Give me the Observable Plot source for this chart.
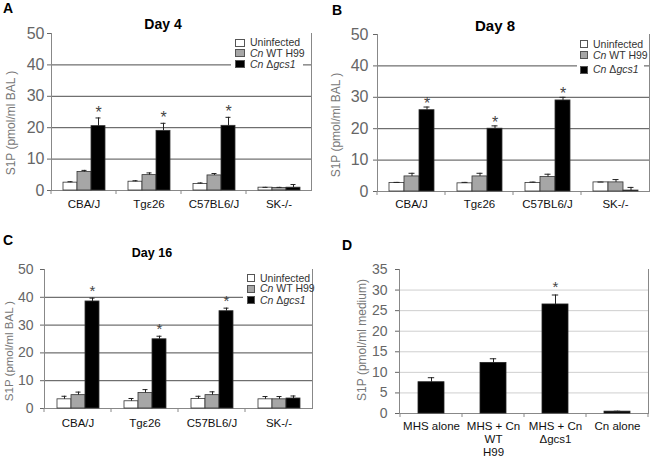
<!DOCTYPE html>
<html>
<head>
<meta charset="utf-8">
<script src="https://cdn.jsdelivr.net/npm/d3@7"></script>
<script src="https://cdn.jsdelivr.net/npm/@observablehq/plot@0.6"></script>
<style>
  html, body { margin: 0; padding: 0; background: #fff; }
  body { font-family: "Liberation Sans", Arial, sans-serif; }
  #fig { position: relative; width: 650px; height: 458px; overflow: hidden; background: #fff; }
  #fig svg { position: absolute; }
  .t { position: absolute; white-space: nowrap; }
  .leg { position: absolute; background: #fff; }
  .sw { position: absolute; box-sizing: border-box; border: 1px solid #555; }
</style>
</head>
<body>
<div id="fig"></div>
<script>
// ---------- data ----------
const groups = ["CBA/J", "Tgε26", "C57BL6/J", "SK-/-"];
const series = ["Uninfected", "Cn WT H99", "Cn Δgcs1"];
const seriesFill = ["#ffffff", "#a6a6a6", "#000000"];
const legendLabels = ["Uninfected", "<i>Cn</i> WT H99", "<i>Cn</i> Δ<i>gcs1</i>"];
const starGroups = ["CBA/J", "Tgε26", "C57BL6/J"];

// rows: Uninfected, Cn WT H99, Cn Δgcs1 ; columns follow groups
const day4Mean = [[2.5, 2.8, 2.1, 0.9], [5.9, 4.9, 4.8, 0.8], [20.5, 19.0, 20.6, 0.9]];
const day4Err  = [[0.3, 0.3, 0.3, 0.1], [0.5, 0.7, 0.6, 0.2], [2.6, 2.4, 2.7, 1.0]];
const day8Mean = [[2.7, 2.6, 2.7, 2.9], [4.8, 4.8, 4.6, 2.9], [25.9, 20.0, 29.0, 0.3]];
const day8Err  = [[0.2, 0.3, 0.3, 0.1], [1.0, 1.0, 0.9, 0.9], [1.0, 0.9, 1.0, 1.0]];
const day16Mean = [[3.3, 2.6, 3.4, 3.3], [4.8, 5.6, 4.8, 3.3], [38.5, 24.9, 35.0, 3.6]];
const day16Err  = [[1.1, 1.0, 1.0, 1.0], [1.1, 1.2, 1.2, 1.0], [1.2, 1.1, 1.1, 0.9]];

const balTicks = [0, 10, 20, 30, 40, 50];
const balGrid = [10, 20, 30, 40];

const mediumCats = ["MHS alone", "MHS + Cn\nWT\nH99", "MHS + Cn\nΔgcs1", "Cn alone"];
const mediumMean = [7.6, 12.3, 26.5, 0.45];
const mediumErr = [1.1, 1.0, 2.3, 0.1];
const mediumStars = ["MHS + Cn\nΔgcs1"];
const mediumTicks = [0, 5, 10, 15, 20, 25, 30, 35];
const mediumGrid = [5, 10, 15, 20, 25, 30];

// ---------- helpers ----------
const NS = "http://www.w3.org/2000/svg";
const fig = document.getElementById("fig");
const FONT = "'Liberation Sans', Arial, sans-serif";

function tidy(means, errs) {
  const rows = [];
  series.forEach((s, i) => groups.forEach((g, j) =>
    rows.push({group: g, series: s, value: means[i][j], err: errs[i][j]})));
  return rows;
}

function edgeTicks(mode, len) {
  return (index, scales, values, dims) => {
    const x = scales.x;
    const y0 = scales.y(0);
    let xs;
    if (mode === "facet") {
      xs = [typeof x.range === "function" ? x.range()[0] : dims.marginLeft];
    } else {
      const st = x.step(), bw = x.bandwidth();
      xs = x.domain().map(d => x(d) + bw / 2 - st / 2);
      xs.push(xs[xs.length - 1] + st);
    }
    const g = document.createElementNS(NS, "g");
    for (const xv of xs) {
      const l = document.createElementNS(NS, "line");
      l.setAttribute("x1", xv); l.setAttribute("x2", xv);
      l.setAttribute("y1", y0); l.setAttribute("y2", y0 + len);
      l.setAttribute("stroke", "#888");
      g.appendChild(l);
    }
    return g;
  };
}

function place(svg, left, top) {
  svg.style.left = left + "px";
  svg.style.top = top + "px";
  fig.appendChild(svg);
}

// baseline-positioned html text (line-height lh em)
function text(html, {x, y, size, weight = "normal", color = "#000", anchor = "start", lh = 1}) {
  const d = document.createElement("div");
  d.className = "t";
  d.innerHTML = html;
  d.style.fontSize = size + "px";
  d.style.lineHeight = lh;
  d.style.fontWeight = weight;
  d.style.color = color;
  d.style.top = (y - size * (lh / 2 + 0.3465)) + "px";
  d.style.left = x + "px";
  if (anchor === "middle") d.style.transform = "translateX(-50%)";
  fig.appendChild(d);
  return d;
}

function yTitle(label, {cx, cy, size}) {
  const d = document.createElement("div");
  d.className = "t";
  d.textContent = label;
  d.style.fontSize = size + "px";
  d.style.lineHeight = 1;
  d.style.color = "#777";
  d.style.left = cx + "px";
  d.style.top = cy + "px";
  d.style.transform = "translate(-50%, -50%) rotate(-90deg)";
  fig.appendChild(d);
}

function legend({left, top, width, height, boxX, boxW, boxH, textX, rowsY, size}) {
  const bg = document.createElement("div");
  bg.className = "leg";
  Object.assign(bg.style, {left: left + "px", top: top + "px", width: width + "px", height: height + "px"});
  fig.appendChild(bg);
  series.forEach((s, i) => {
    const sw = document.createElement("div");
    sw.className = "sw";
    Object.assign(sw.style, {left: boxX + "px", top: (rowsY[i] - boxH / 2) + "px",
      width: boxW + "px", height: boxH + "px", background: seriesFill[i]});
    fig.appendChild(sw);
    text(legendLabels[i], {x: textX, y: rowsY[i] + 0.36 * size, size, color: "#333", lh: 0.85});
  });
}

function facetPanel({means, errs, width, height, margin, tickFont, tickPad, fxPad, starDy, starSize}) {
  const rows = tidy(means, errs);
  const starRows = rows.filter(d => d.series === series[2] && starGroups.includes(d.group));
  return Plot.plot({
    width, height,
    marginLeft: margin[0], marginRight: margin[1], marginTop: margin[2], marginBottom: margin[3],
    style: {fontFamily: FONT, background: "none", overflow: "visible"},
    fx: {domain: groups, padding: 0, label: null, axis: null},
    x: {domain: series, paddingInner: 0, paddingOuter: 0.74, axis: null},
    y: {domain: [0, 50], axis: null},
    color: {domain: series, range: seriesFill},
    marks: [
      Plot.ruleY(balGrid, {stroke: "#4d4d4d", strokeWidth: 1}),
      Plot.ruleY([0], {stroke: "#888"}),
      Plot.frame({anchor: "left", facetAnchor: "left", stroke: "#888"}),
      Plot.frame({anchor: "right", facetAnchor: "right", stroke: "#888"}),
      Plot.axisY({ticks: balTicks, tickSize: 4, tickPadding: tickPad, label: null,
        fontSize: tickFont, color: "#666"}),
      Plot.barY(rows, {fx: "group", x: "series", y: "value", fill: "series", stroke: "#333", strokeWidth: 0.8}),
      Plot.ruleX(rows, {fx: "group", x: "series", y1: "value", y2: d => d.value + d.err, stroke: "#222"}),
      Plot.tickY(rows, {fx: "group", x: "series", y: d => d.value + d.err, stroke: "#222", insetLeft: 4.5, insetRight: 4.5}),
      Plot.text(starRows, {fx: "group", x: "series", y: d => d.value + d.err, text: () => "*",
        lineAnchor: "bottom", dy: starDy, fontSize: starSize, fill: "#444"}),
      Plot.axisFx({anchor: "bottom", tickSize: 0, tickPadding: fxPad, fontSize: 11.5, color: "#111", label: null}),
      edgeTicks("facet", 4)
    ]
  });
}

// ---------- Panel A ----------
place(facetPanel({means: day4Mean, errs: day4Err, width: 325, height: 215, margin: [49, 13, 33, 25],
  tickFont: 16, tickPad: 3, fxPad: 9, starDy: 0, starSize: 16}), 0, 0);
// ---------- Panel B ----------
place(facetPanel({means: day8Mean, errs: day8Err, width: 325, height: 215, margin: [52, 1, 34, 24],
  tickFont: 16, tickPad: 5, fxPad: 8, starDy: 2, starSize: 16}), 325, 0);
// ---------- Panel C ----------
place(facetPanel({means: day16Mean, errs: day16Err, width: 325, height: 200, margin: [43, 12, 39, 22],
  tickFont: 14, tickPad: 7, fxPad: 10, starDy: -2, starSize: 15}), 0, 230);

// ---------- Panel D ----------
const dRows = mediumCats.map((c, i) => ({cat: c, value: mediumMean[i], err: mediumErr[i]}));
const dStars = dRows.filter(d => mediumStars.includes(d.cat));
place(Plot.plot({
  width: 325, height: 228, marginLeft: 74, marginRight: 2, marginTop: 39, marginBottom: 45,
  style: {fontFamily: FONT, background: "none", overflow: "visible"},
  x: {domain: mediumCats, paddingInner: 0.587, paddingOuter: 0.2935, axis: null},
  y: {domain: [0, 35], axis: null},
  marks: [
    Plot.ruleY(mediumGrid, {stroke: "#cfcfcf"}),
    Plot.ruleY([0], {stroke: "#888"}),
    Plot.frame({anchor: "left", stroke: "#888"}),
    Plot.frame({anchor: "right", stroke: "#888"}),
    Plot.axisY({ticks: mediumTicks, tickSize: 4, tickPadding: 8, label: null, fontSize: 14, color: "#666"}),
    Plot.barY(dRows, {x: "cat", y: "value", fill: "#000", stroke: "#222", strokeWidth: 0.8}),
    Plot.ruleX(dRows, {x: "cat", y1: "value", y2: d => d.value + d.err, stroke: "#222"}),
    Plot.tickY(dRows, {x: "cat", y: d => d.value + d.err, stroke: "#222", insetLeft: 9.8, insetRight: 9.8}),
    Plot.text(dStars, {x: "cat", y: d => d.value + d.err, text: () => "*", lineAnchor: "bottom", dy: -3, fontSize: 15, fill: "#444"}),
    Plot.axisX({anchor: "bottom", tickSize: 0, tickPadding: 8, fontSize: 11.5, color: "#111", label: null, lineHeight: 1.1}),
    edgeTicks("band", 4)
  ]
}), 325, 230);

// ---------- annotations ----------
text("A", {x: 3, y: 13, size: 14, weight: "bold"});
text("B", {x: 332, y: 15, size: 14, weight: "bold"});
text("C", {x: 3, y: 245, size: 14, weight: "bold"});
text("D", {x: 342, y: 250, size: 14, weight: "bold"});

text("Day 4", {x: 163, y: 29, size: 14, weight: "bold", anchor: "middle"});
text("Day 8", {x: 495, y: 31, size: 15, weight: "bold", anchor: "middle"});
text("Day 16", {x: 152, y: 257.5, size: 12.5, weight: "bold", anchor: "middle"});

yTitle("S1P (pmol/ml BAL )", {cx: 11, cy: 123, size: 12});
yTitle("S1P (pmol/ml BAL )", {cx: 336, cy: 125, size: 12});
yTitle("S1P (pmol/ml BAL )", {cx: 9.5, cy: 351, size: 11.5});
yTitle("S1P (pmol/ml medium)", {cx: 362, cy: 340, size: 12});

legend({left: 231, top: 37, width: 72, height: 33, boxX: 235, boxW: 10, boxH: 8, textX: 250,
  rowsY: [42.7, 53.3, 64.3], size: 10.5});
legend({left: 577, top: 39, width: 67, height: 36, boxX: 580, boxW: 8, boxH: 8, textX: 593,
  rowsY: [44, 55, 69.5], size: 10.5});
legend({left: 243, top: 272, width: 69, height: 34, boxX: 247, boxW: 8, boxH: 8, textX: 260,
  rowsY: [278, 288.5, 300], size: 10.5});
</script>
</body>
</html>
